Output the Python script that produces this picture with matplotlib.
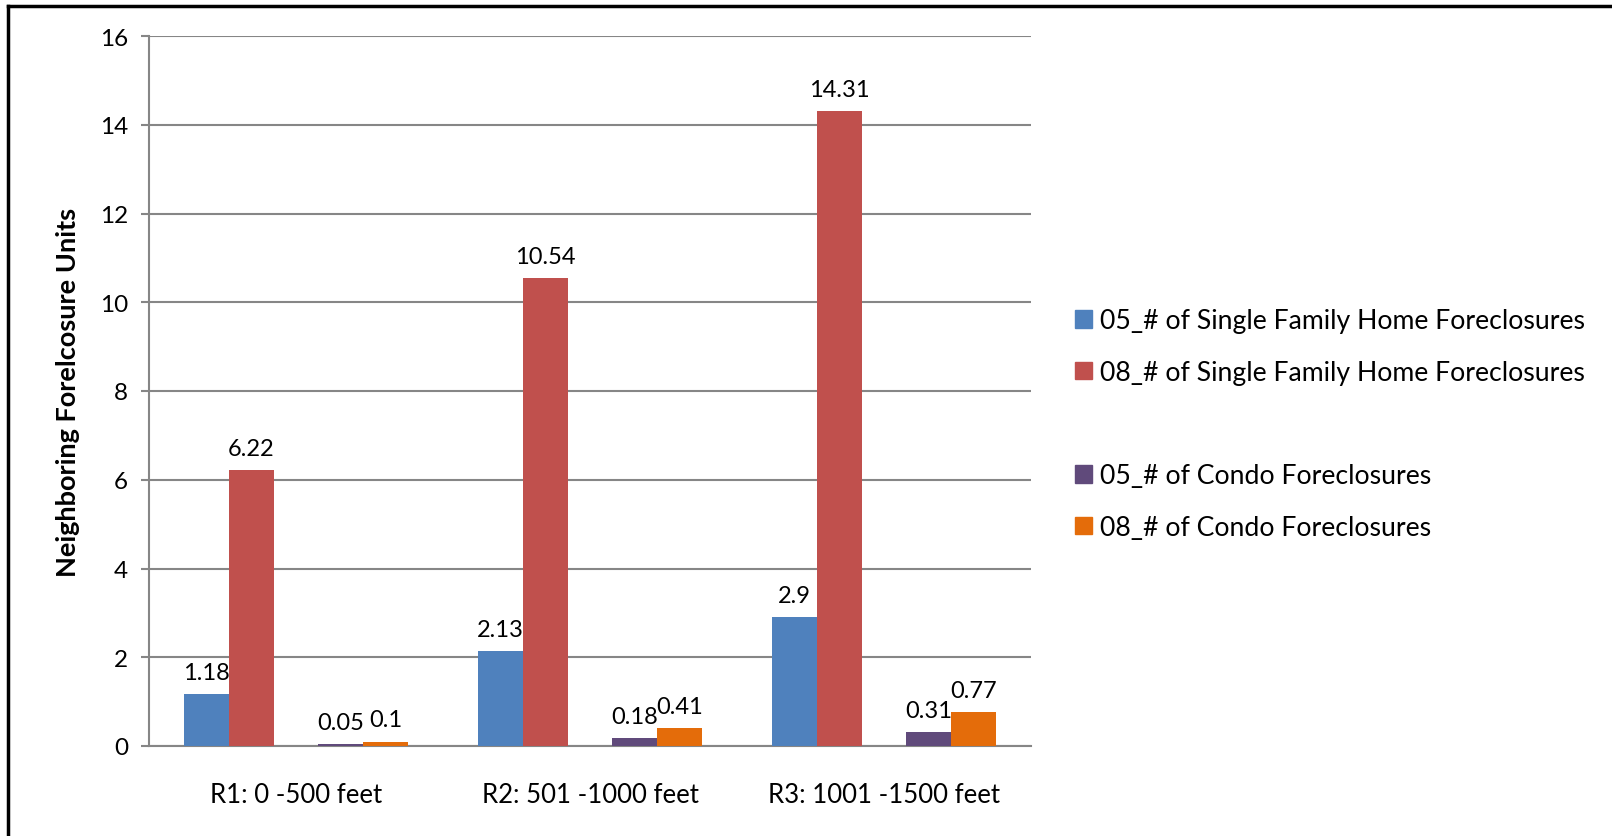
import matplotlib.pyplot as plt
from matplotlib.patches import Patch
from matplotlib.lines import Line2D

# data
categories = ["R1: 0 -500 feet", "R2: 501 -1000 feet", "R3: 1001 -1500 feet"]
sf_05 = [1.18, 2.13, 2.9]
sf_08 = [6.22, 10.54, 14.31]
condo_05 = [0.05, 0.18, 0.31]
condo_08 = [0.1, 0.41, 0.77]
series_names = ["05_# of Single Family Home Foreclosures",
                "08_# of Single Family Home Foreclosures",
                "05_# of Condo Foreclosures",
                "08_# of Condo Foreclosures"]
yticks = [0, 2, 4, 6, 8, 10, 12, 14, 16]

plt.rcParams['font.family'] = ['Lato', 'DejaVu Sans']

colors = ["#4F81BD", "#C0504D", "#604A7B", "#E46C0A"]
grid_col = "#868686"

fig = plt.figure(figsize=(16.12, 8.37), dpi=100)
ax = fig.add_axes([149 / 1612, 1 - 747 / 837, (1031 - 149) / 1612, (747 - 37) / 837])

# 5 slots per group, the middle slot is empty (blank legend entry)
w = 0.153
slots = [-2, -1, 1, 2]
all_series = [sf_05, sf_08, condo_05, condo_08]
x = list(range(len(categories)))
for vals, slot, col in zip(all_series, slots, colors):
    xs = [xi + slot * w for xi in x]
    bars = ax.bar(xs, vals, width=w, color=col, zorder=3)
    for b, v in zip(bars, vals):
        ax.annotate(f"{v:g}", (b.get_x() + b.get_width() / 2, v),
                    xytext=(0, 8), textcoords="offset points",
                    ha="center", va="bottom", fontsize=17, color="black")

ax.set_xlim(-0.5, len(categories) - 0.5)
ax.set_ylim(0, 16)
ax.set_yticks(yticks)
ax.set_xticks(x)
ax.set_xticklabels(categories, fontsize=18.5)
ax.tick_params(axis="y", labelsize=17.5, length=6, width=1.5, color=grid_col, pad=9)
ax.tick_params(axis="x", length=0, pad=26)
ax.yaxis.grid(True, color=grid_col, linewidth=1.5, zorder=0)
for s in ["top", "right"]:
    ax.spines[s].set_visible(False)
ax.spines["left"].set_color(grid_col)
ax.spines["bottom"].set_color(grid_col)
ax.spines["left"].set_linewidth(1.5)
ax.spines["bottom"].set_linewidth(1.5)

ax.set_ylabel("Neighboring Forelcosure Units", fontsize=19.5, fontweight="bold", labelpad=14)

handles = [Patch(color=colors[0]), Patch(color=colors[1]),
           Line2D([], [], linestyle="none"),
           Patch(color=colors[2]), Patch(color=colors[3])]
labels = [series_names[0], series_names[1], " ", series_names[2], series_names[3]]
fig.legend(handles, labels, loc="center left", bbox_to_anchor=(1064 / 1612, 1 - 425 / 837),
           frameon=False, fontsize=19.2, handlelength=0.65, handleheight=0.65,
           handletextpad=0.3, labelspacing=1.0, borderaxespad=0)

# outer frame (only top and left edges are visible)
fig.add_artist(Line2D([8 / 1612, 8 / 1612], [0, 1 - 7 / 837], color="black", linewidth=2.5,
                      transform=fig.transFigure))
fig.add_artist(Line2D([8 / 1612, 1], [1 - 7 / 837, 1 - 7 / 837], color="black", linewidth=2.5,
                      transform=fig.transFigure))

fig.savefig("out.png", dpi=100)
